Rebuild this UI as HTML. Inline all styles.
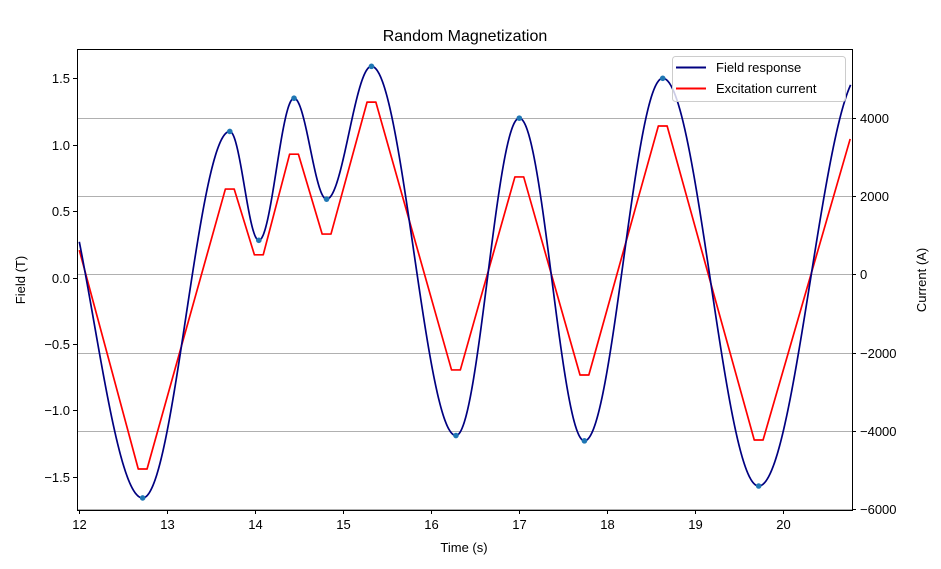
<!DOCTYPE html>
<html><head><meta charset="utf-8"><style>
body{margin:0;background:#fff}
svg text{font-family:"Liberation Sans","DejaVu Sans",sans-serif;fill:#000}
</style></head><body>
<svg id="s" width="941" height="564" xmlns="http://www.w3.org/2000/svg">
<rect width="941" height="564" fill="#fff"/>
<g id="grid" stroke="#b0b0b0" stroke-width="1"></g>
<g id="plot"></g>
<rect x="77.5" y="49.5" width="775" height="461" fill="none" stroke="#000" stroke-width="1"/>
<g id="ticks" stroke="#000" stroke-width="1"></g>
<g id="labels" font-size="13"></g>
<text x="465" y="41" font-size="16" text-anchor="middle">Random Magnetization</text>
<text x="464" y="552" font-size="13" text-anchor="middle">Time (s)</text>
<text transform="translate(25,280) rotate(-90)" font-size="13" text-anchor="middle">Field (T)</text>
<text transform="translate(926,280) rotate(-90)" font-size="13" text-anchor="middle">Current (A)</text>
<rect x="672.5" y="56.5" width="173" height="45" rx="3" fill="#fff" fill-opacity="0.8" stroke="#ccc"/>
<line x1="676" y1="67.5" x2="706" y2="67.5" stroke="#000080" stroke-width="2"/>
<line x1="676" y1="88.5" x2="706" y2="88.5" stroke="#ff0000" stroke-width="2"/>
<text x="716" y="72" font-size="13">Field response</text>
<text x="716" y="93" font-size="13">Excitation current</text>
</svg>
<script>
var NS="http://www.w3.org/2000/svg";
function X(t){return 79.3+88*(t-12);}
function YB(v){return 277.5-132.8*v;}
function YI(v){return 274.4-v*78.3/2000;}
function el(p,n,a,txt){var e=document.createElementNS(NS,n);for(var k in a)e.setAttribute(k,a[k]);if(txt!=null)e.textContent=txt;document.getElementById(p).appendChild(e);return e;}
// grid (right axis)
for(var v=-6000;v<=4000;v+=2000){var y=Math.round(YI(v))+0.5;el("grid","line",{x1:77,x2:852,y1:y,y2:y});
 el("ticks","line",{x1:852,x2:856,y1:y,y2:y});el("labels","text",{x:860,y:y+4.5},String(v).replace("-","−"));}
for(var i=-3;i<=3;i++){var v=i*0.5;var y=Math.round(YB(v))+0.5;el("ticks","line",{x1:73,x2:77,y1:y,y2:y});
 el("labels","text",{x:70,y:y+4.5,"text-anchor":"end"},(v<0?"−":"")+Math.abs(v).toFixed(1));}
for(var t=12;t<=20;t++){var x=Math.round(X(t))+0.5;el("ticks","line",{x1:x,x2:x,y1:510,y2:514});
 el("labels","text",{x:x,y:529,"text-anchor":"middle"},String(t));}
// field
var E=[[11.61,1.0],[12.72,-1.66],[13.71,1.10],[14.04,0.28],[14.44,1.35],[14.81,0.59],[15.32,1.59],[16.28,-1.19],[17.0,1.20],[17.74,-1.23],[18.63,1.50],[19.72,-1.57],[20.9,1.55]];
function B(t){for(var i=0;i<E.length-1;i++){if(t<=E[i+1][0]){var f=(t-E[i][0])/(E[i+1][0]-E[i][0]);return E[i][1]+(E[i+1][1]-E[i][1])*(1-Math.cos(Math.PI*f))/2;}}return E[E.length-1][1];}
var d="";for(var t=12;t<=20.765;t+=0.005){d+=(d?"L":"M")+X(t).toFixed(2)+","+YB(B(t)).toFixed(2);}
// current
var C=[[12,620],[12.67,-4970],[12.77,-4970],[13.66,2180],[13.76,2180],[13.99,500],[14.09,500],[14.39,3070],[14.49,3070],[14.76,1030],[14.86,1030],[15.27,4400],[15.37,4400],[16.23,-2440],[16.33,-2440],[16.95,2490],[17.05,2490],[17.69,-2570],[17.79,-2570],[18.58,3790],[18.68,3790],[19.67,-4230],[19.77,-4230],[20.76,3460]];
var dc="";C.forEach(function(p){dc+=(dc?"L":"M")+X(p[0]).toFixed(2)+","+YI(p[1]).toFixed(2);});
el("plot","path",{d:dc,fill:"none",stroke:"#ff0000","stroke-width":1.7,"stroke-linejoin":"round"});
el("plot","path",{d:d,fill:"none",stroke:"#000080","stroke-width":1.7});
E.slice(1,12).forEach(function(p){el("plot","circle",{cx:X(p[0]),cy:YB(p[1]),r:2.8,fill:"#1f77b4"});});
</script>
</body></html>
